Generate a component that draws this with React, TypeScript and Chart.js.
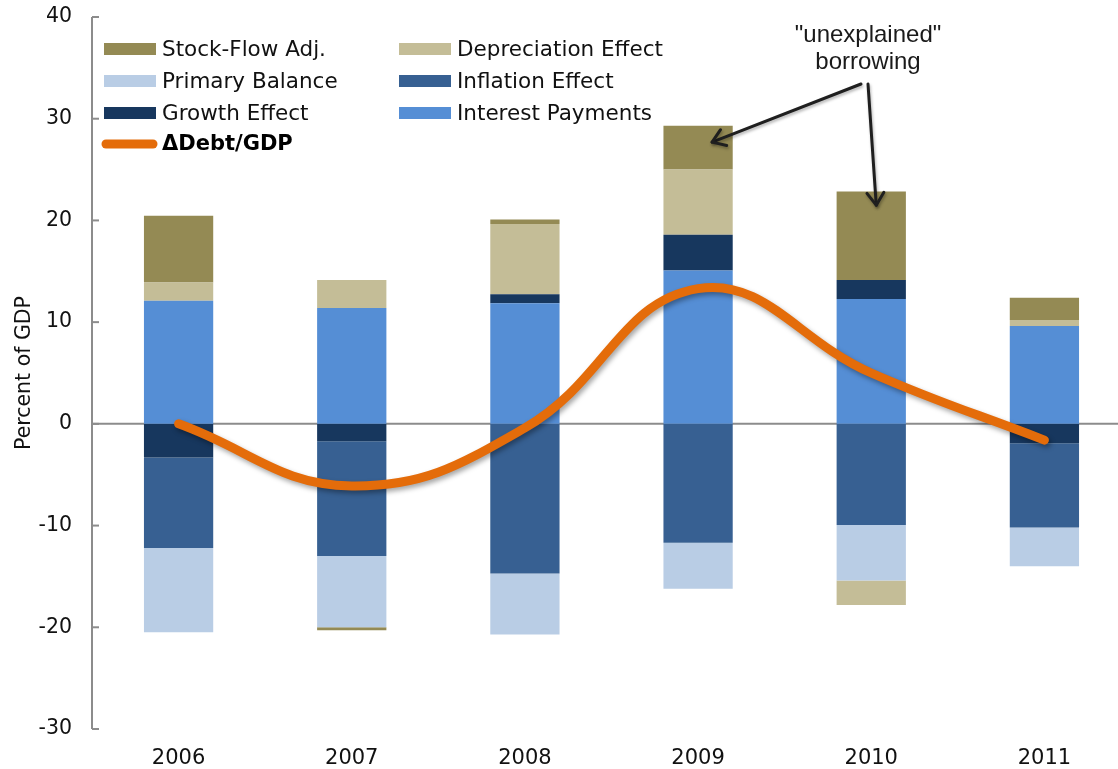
import React, { useEffect, useRef } from "react";
import { Chart, registerables } from "chart.js";

Chart.register(...registerables);

const years = ["2006", "2007", "2008", "2009", "2010", "2011"];
const interestPayments = [12.1, 11.4, 11.85, 15.07, 12.28, 9.62];
const growthEffect = [-3.3, -1.7, 0.9, 3.53, 1.87, -1.9];
const inflationEffect = [-8.9, -11.3, -14.7, -11.7, -9.95, -8.3];
const primaryBalance = [-8.3, -7.0, -6.0, -4.5, -5.45, -3.8];
const depreciationEffect = [1.8, 2.75, 6.9, 6.4, -2.4, 0.58];
const stockFlowAdj = [6.55, -0.3, 0.45, 4.3, 8.7, 2.2];
const debtChange = [0, -6.1, -0.4, 13.3, 5.0, -1.6];

const yTicks = [-30, -20, -10, 0, 10, 20, 30, 40];

const COLORS = {
  stock: "#948A54",
  dep: "#C4BD97",
  primary: "#B9CDE5",
  inflation: "#376092",
  growth: "#17375E",
  interest: "#558ED5",
  line: "#E46C0A",
};

const FONT = "'DejaVu Sans', Verdana, sans-serif";
const ANN_FONT = "'Liberation Sans', Arial, sans-serif";

const W = 1131;
const H = 769;

function arrow(ctx: CanvasRenderingContext2D, x1: number, y1: number, x2: number, y2: number) {
  ctx.beginPath();
  ctx.moveTo(x1, y1);
  ctx.lineTo(x2, y2);
  ctx.stroke();
  const ang = Math.atan2(y2 - y1, x2 - x1);
  const len = 15;
  const spread = 0.6;
  ctx.beginPath();
  ctx.moveTo(x2 - len * Math.cos(ang - spread), y2 - len * Math.sin(ang - spread));
  ctx.lineTo(x2, y2);
  ctx.lineTo(x2 - len * Math.cos(ang + spread), y2 - len * Math.sin(ang + spread));
  ctx.stroke();
}

const overlay = {
  id: "overlay",
  beforeDatasetsDraw(chart: any) {
    const { ctx, chartArea } = chart;
    const y = chart.scales.y;
    ctx.save();
    ctx.strokeStyle = "#8c8c8c";
    ctx.lineWidth = 2;
    const y0 = y.getPixelForValue(0);
    ctx.beginPath();
    ctx.moveTo(chartArea.left, y0);
    ctx.lineTo(chart.width, y0);
    ctx.stroke();
    ctx.beginPath();
    ctx.moveTo(chartArea.left, chartArea.top);
    ctx.lineTo(chartArea.left, chartArea.bottom);
    ctx.stroke();
    for (const t of yTicks) {
      const py = y.getPixelForValue(t);
      ctx.beginPath();
      ctx.moveTo(chartArea.left, py);
      ctx.lineTo(chartArea.left + 7, py);
      ctx.stroke();
    }
    ctx.restore();
  },
  beforeDatasetDraw(chart: any, args: any) {
    if (args.meta.type === "line") {
      const ctx = chart.ctx;
      ctx.save();
      ctx.shadowColor = "rgba(0,0,0,0.35)";
      ctx.shadowBlur = 5;
      ctx.shadowOffsetX = 2;
      ctx.shadowOffsetY = 3;
    }
  },
  afterDatasetDraw(chart: any, args: any) {
    if (args.meta.type === "line") {
      chart.ctx.restore();
    }
  },
  afterDraw(chart: any) {
    const { ctx } = chart;
    const x = chart.scales.x;
    const y = chart.scales.y;
    ctx.save();
    const items = [
      { col: 0, row: 0, label: "Stock-Flow Adj.", color: COLORS.stock },
      { col: 1, row: 0, label: "Depreciation Effect", color: COLORS.dep },
      { col: 0, row: 1, label: "Primary Balance", color: COLORS.primary },
      { col: 1, row: 1, label: "Inflation Effect", color: COLORS.inflation },
      { col: 0, row: 2, label: "Growth Effect", color: COLORS.growth },
      { col: 1, row: 2, label: "Interest Payments", color: COLORS.interest },
    ];
    const colX = [104, 399];
    const rowY = [49, 81, 113, 144];
    ctx.textBaseline = "middle";
    ctx.textAlign = "left";
    ctx.font = `21.5px ${FONT}`;
    for (const it of items) {
      const sx = colX[it.col];
      const sy = rowY[it.row];
      ctx.fillStyle = it.color;
      ctx.fillRect(sx, sy - 6, 52, 12);
      ctx.fillStyle = "#111";
      ctx.fillText(it.label, sx + 58, sy + 1);
    }
    ctx.strokeStyle = COLORS.line;
    ctx.lineWidth = 9;
    ctx.lineCap = "round";
    ctx.beginPath();
    ctx.moveTo(106, rowY[3]);
    ctx.lineTo(153, rowY[3]);
    ctx.stroke();
    ctx.fillStyle = "#000";
    ctx.font = `bold 21px ${FONT}`;
    ctx.fillText("\u0394Debt/GDP", 162, rowY[3] + 1);

    ctx.font = `24px ${ANN_FONT}`;
    ctx.textAlign = "center";
    ctx.fillStyle = "#1a1a1a";
    ctx.fillText("\"unexplained\"", 868, 35);
    ctx.fillText("borrowing", 868, 62);
    ctx.strokeStyle = "#1f1f1f";
    ctx.lineWidth = 3;
    ctx.lineCap = "round";
    ctx.lineJoin = "round";
    ctx.shadowColor = "rgba(0,0,0,0.3)";
    ctx.shadowBlur = 3;
    ctx.shadowOffsetX = 1;
    ctx.shadowOffsetY = 2;
    arrow(ctx, 861, 84, x.getPixelForValue(3) + 14, y.getPixelForValue(27.7));
    arrow(ctx, 868, 84, x.getPixelForValue(4) + 5, y.getPixelForValue(21.5));
    ctx.restore();
  },
};

export default function App() {
  const ref = useRef<HTMLCanvasElement | null>(null);
  useEffect(() => {
    if (!ref.current) return;
    const bar = (label: string, data: number[], color: string) => ({
      type: "bar" as const,
      label,
      data,
      backgroundColor: color,
      borderWidth: 0,
      order: 2,
      categoryPercentage: 1,
      barPercentage: 0.4,
    });
    const chart = new Chart(ref.current, {
      type: "bar",
      data: {
        labels: years,
        datasets: [
          bar("Interest Payments", interestPayments, COLORS.interest),
          bar("Growth Effect", growthEffect, COLORS.growth),
          bar("Inflation Effect", inflationEffect, COLORS.inflation),
          bar("Primary Balance", primaryBalance, COLORS.primary),
          bar("Depreciation Effect", depreciationEffect, COLORS.dep),
          bar("Stock-Flow Adj.", stockFlowAdj, COLORS.stock),
          {
            type: "line" as const,
            label: "\u0394Debt/GDP",
            data: debtChange,
            borderColor: COLORS.line,
            backgroundColor: COLORS.line,
            borderWidth: 9,
            borderCapStyle: "round",
            borderJoinStyle: "round",
            pointRadius: 0,
            tension: 0.42,
            order: 0,
            stack: "line",
            clip: false as any,
          } as any,
        ],
      },
      options: {
        responsive: false,
        animation: false,
        layout: { padding: { top: 17, left: 0, right: 0, bottom: 0 } },
        plugins: { legend: { display: false }, tooltip: { enabled: false } },
        scales: {
          x: {
            stacked: true,
            offset: true,
            grid: { display: false, drawTicks: false },
            border: { display: false },
            ticks: { font: { family: FONT, size: 21 }, color: "#111", padding: 17 },
            afterFit: (s: any) => {
              s.height = 40;
              s.paddingLeft = 0;
              s.paddingRight = 0;
            },
          },
          y: {
            stacked: true,
            min: -30,
            max: 40,
            grid: { display: false, drawTicks: false },
            border: { display: false },
            ticks: {
              stepSize: 10,
              font: { family: FONT, size: 20.5 },
              color: "#111",
              padding: 20,
            },
            title: {
              display: true,
              text: "Percent of GDP",
              font: { family: FONT, size: 20.5 },
              color: "#111",
              padding: { top: 12, bottom: 0 },
            },
            afterFit: (s: any) => {
              s.width = 92;
              s.paddingTop = 0;
              s.paddingBottom = 0;
            },
          },
        },
      },
      plugins: [overlay],
    });
    return () => chart.destroy();
  }, []);
  return (
    <div
      style={{
        position: "fixed",
        left: 0,
        top: 0,
        width: 1118,
        height: 769,
        overflow: "hidden",
        background: "#fff",
      }}
    >
      <canvas ref={ref} width={W} height={H} style={{ display: "block", width: W, height: H }} />
    </div>
  );
}
